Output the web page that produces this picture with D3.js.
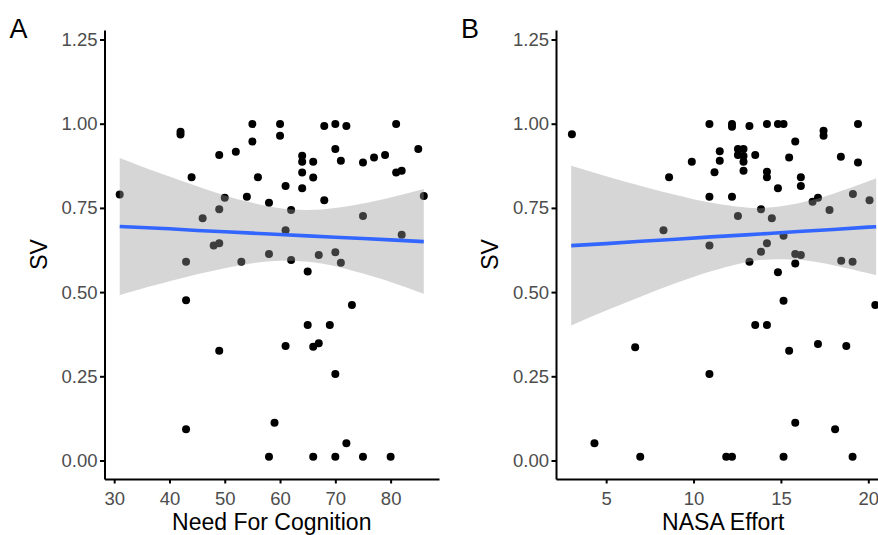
<!DOCTYPE html>
<html><head><meta charset="utf-8">
<script src="https://cdn.jsdelivr.net/npm/d3@7"></script>
<style>body{margin:0;background:#fff} svg{display:block;font-family:"Liberation Sans",Arial,sans-serif}</style>
</head><body><svg id="c" width="878" height="535"></svg>
<script>
// ---- Data: panel A (Need For Cognition vs SV)
const nfcX = [31,42,42,55,55,49,52,44,56,54,58,50,49,46,48,49,43,53,58,43,49,43,58,
  60,60,68,70,72,81,85,64,64,66,70,71,75,77,79,81,82,64,66,61,64,68,86,62,75,61,82,
  62,67,70,71,65,73,65,69,61,66,67,70,59,72,66,70,75,80];
const nfcSV = [0.790,0.976,0.968,0.999,0.947,0.907,0.917,0.841,0.841,0.783,0.765,0.780,0.746,0.719,0.638,0.645,0.590,0.590,0.613,0.476,0.326,0.093,0.011,
  0.999,0.964,0.993,0.999,0.993,0.999,0.925,0.905,0.887,0.887,0.925,0.890,0.885,0.900,0.907,0.855,0.860,0.855,0.840,0.815,0.808,0.773,0.785,0.744,0.726,0.684,0.670,
  0.595,0.610,0.618,0.587,0.561,0.462,0.402,0.402,0.340,0.338,0.348,0.257,0.112,0.051,0.011,0.011,0.011,0.011];
// fitted line and confidence band
const nfcFitX  = [31,35,40,45,50,55,60,65,70,75,80,86];
const nfcFitY  = [0.695,0.692,0.688,0.683,0.679,0.675,0.671,0.667,0.663,0.659,0.655,0.650];
const nfcFitLo = [0.491,0.510,0.532,0.553,0.571,0.586,0.593,0.590,0.577,0.555,0.530,0.495];
const nfcFitHi = [0.898,0.873,0.843,0.814,0.787,0.765,0.749,0.744,0.750,0.763,0.781,0.806];

// ---- Data: panel B (NASA Effort vs SV)
const effX = [3.04,10.91,11.5,11.5,9.9,11.2,8.6,10.91,8.28,10.91,6.66,10.91,4.33,6.95,
  12.2,12.2,13.2,14.2,14.83,15.15,17.44,17.44,19.41,15.82,12.54,12.86,12.54,12.86,13.53,12.86,
  15.47,18.43,19.41,12.86,14.2,14.2,16.14,16.14,14.83,12.2,16.81,17.12,19.12,20.07,13.86,12.54,
  14.48,17.78,15.15,14.2,13.86,15.82,16.14,15.82,13.2,18.45,19.1,14.83,15.15,20.4,13.53,14.2,
  15.47,17.12,18.74,15.82,18.1,11.87,12.2,15.15,19.1];
const effSV = [0.969,0.999,0.918,0.890,0.887,0.856,0.841,0.783,0.684,0.638,0.336,0.257,0.051,0.011,
  0.999,0.991,0.993,0.999,0.999,0.999,0.979,0.964,0.999,0.947,0.925,0.925,0.907,0.904,0.907,0.887,
  0.900,0.902,0.885,0.860,0.857,0.841,0.841,0.815,0.808,0.783,0.768,0.780,0.791,0.773,0.746,0.726,
  0.719,0.744,0.667,0.645,0.620,0.613,0.610,0.585,0.590,0.593,0.590,0.559,0.474,0.462,0.402,0.402,
  0.326,0.346,0.340,0.112,0.093,0.011,0.011,0.011,0.011];
const effFitX  = [3,5,7,9,11,13,14.3,16,18,20,20.45];
const effFitY  = [0.638,0.644,0.651,0.657,0.664,0.670,0.674,0.680,0.686,0.693,0.694];
const effFitLo = [0.401,0.445,0.487,0.527,0.562,0.589,0.597,0.596,0.580,0.556,0.550];
const effFitHi = [0.875,0.844,0.815,0.788,0.765,0.751,0.751,0.764,0.792,0.829,0.838];

// ---- Tick labels
const svTicks = [0,0.25,0.5,0.75,1.0,1.25];
const nfcTicks = [30,40,50,60,70,80];
const effTicks = [5,10,15,20];

const panels = [
  {tag:"A", title:"Need For Cognition", xs:nfcX, ys:nfcSV, fx:nfcFitX, fy:nfcFitY, lo:nfcFitLo, hi:nfcFitHi,
   ticks:nfcTicks, dom:[28.25,88.75], left:104.5},
  {tag:"B", title:"NASA Effort", xs:effX, ys:effSV, fx:effFitX, fy:effFitY, lo:effFitLo, hi:effFitHi,
   ticks:effTicks, dom:[2.13,21.27], left:556}
];

const svg = d3.select("#c");
const PW = 334.5, PTOP = 30, PBOT = 479;
const y = d3.scaleLinear().domain([(460.5-479)/336.8, (460.5-30)/336.8]).range([PBOT, PTOP]);

panels.forEach(p => {
  const x = d3.scaleLinear().domain(p.dom).range([p.left, p.left + PW]);
  const g = svg.append("g");

  // points
  g.append("g").selectAll("circle").data(p.xs.map((v,i)=>[v,p.ys[i]])).join("circle")
    .attr("cx", d=>x(d[0])).attr("cy", d=>y(d[1])).attr("r", 4).attr("fill", "#000");

  // ribbon
  const band = p.fx.map((v,i)=>({x:v, lo:p.lo[i], hi:p.hi[i], m:p.fy[i]}));
  g.append("path").datum(band)
    .attr("d", d3.area().x(d=>x(d.x)).y0(d=>y(d.lo)).y1(d=>y(d.hi)).curve(d3.curveNatural))
    .attr("fill", "#999999").attr("fill-opacity", 0.4);
  g.append("path").datum(band)
    .attr("d", d3.line().x(d=>x(d.x)).y(d=>y(d.m)))
    .attr("fill", "none").attr("stroke", "#3366FF").attr("stroke-width", 3.6);

  // axes
  const ay = g.append("g").attr("transform", `translate(${p.left},0)`)
    .call(d3.axisLeft(y).tickValues(svTicks).tickFormat(d3.format(".2f")).tickSize(4.5).tickSizeOuter(0).tickPadding(2.5));
  const ax = g.append("g").attr("transform", `translate(0,${PBOT})`)
    .call(d3.axisBottom(x).tickValues(p.ticks).tickFormat(d3.format("d")).tickSize(4.5).tickSizeOuter(0).tickPadding(8.3));
  [ay, ax].forEach(a => {
    a.select(".domain").attr("stroke", "#000").attr("stroke-width", 2);
    a.selectAll(".tick line").attr("stroke", "#000").attr("stroke-width", 2);
    a.selectAll(".tick text").attr("fill", "#4D4D4D").style("font-size", "18.5px")
      .style("font-family", '"Liberation Sans",Arial,sans-serif');
  });

  // titles
  g.append("text").attr("x", p.left + PW/2).attr("y", 530).attr("text-anchor", "middle")
    .style("font-size", "23px").attr("fill", "#000").text(p.title);
  g.append("text").attr("transform", `translate(${p.left-66},${(PTOP+PBOT)/2}) rotate(-90)`)
    .attr("dy", "0.36em").attr("text-anchor", "middle")
    .style("font-size", "23px").attr("fill", "#000").text("SV");
  g.append("text").attr("x", p.left - 95).attr("y", 38)
    .style("font-size", "27px").attr("fill", "#000").text(p.tag);
});
</script></body></html>
